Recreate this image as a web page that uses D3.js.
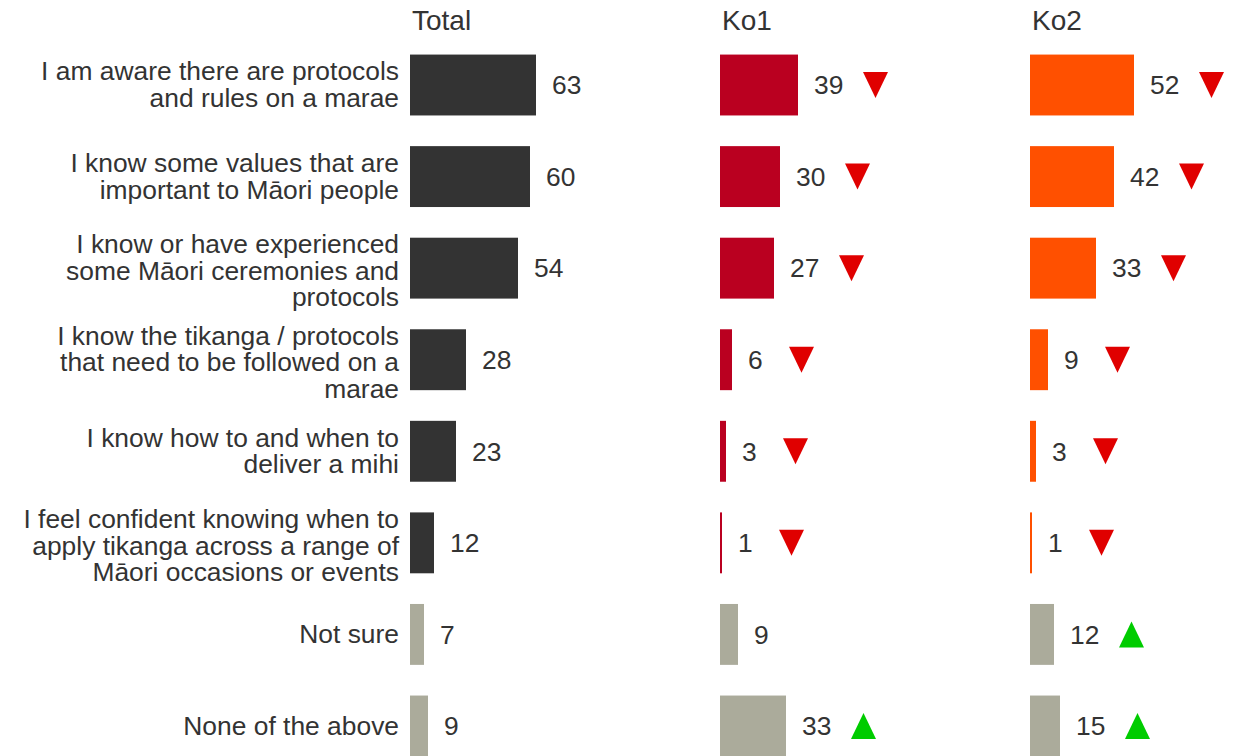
<!DOCTYPE html>
<html>
<head>
<meta charset="utf-8">
<script src="https://cdn.jsdelivr.net/npm/d3@7"></script>
<style>
  html, body { margin: 0; padding: 0; background: #ffffff; }
  svg { display: block; font-family: "Liberation Sans", Arial, sans-serif; }
</style>
</head>
<body>
<svg id="chart" width="1243" height="756"></svg>
<script>
// Survey statements (each entry is a list of wrapped lines)
const categories = [
  ["I am aware there are protocols", "and rules on a marae"],
  ["I know some values that are", "important to Māori people"],
  ["I know or have experienced", "some Māori ceremonies and", "protocols"],
  ["I know the tikanga / protocols", "that need to be followed on a", "marae"],
  ["I know how to and when to", "deliver a mihi"],
  ["I feel confident knowing when to", "apply tikanga across a range of", "Māori occasions or events"],
  ["Not sure"],
  ["None of the above"]
];

const panels = ["Total", "Ko1", "Ko2"];

const totalValues = [63, 60, 54, 28, 23, 12, 7, 9];
const ko1Values   = [39, 30, 27, 6, 3, 1, 9, 33];
const ko2Values   = [52, 42, 33, 9, 3, 1, 12, 15];

// Significance vs total: "down", "up" or null
const ko1Sig = ["down", "down", "down", "down", "down", "down", null, "up"];
const ko2Sig = ["down", "down", "down", "down", "down", "down", "up", "up"];

// Rows that are "other" responses and drawn in neutral grey
const neutralRows = [6, 7];

const series = [
  { name: panels[0], values: totalValues, sig: null,   color: "#333333" },
  { name: panels[1], values: ko1Values,   sig: ko1Sig, color: "#BA0020" },
  { name: panels[2], values: ko2Values,   sig: ko2Sig, color: "#FF5000" }
];

const svg = d3.select("#chart");
const textColor = "#333333";
const greyColor = "#ABAB9B";
const fontSize = "26.4px";

const panelX = [410, 720, 1030];
const x = d3.scaleLinear().domain([0, 100]).range([0, 200]);

const y = d3.scaleBand()
  .domain(d3.range(categories.length))
  .range([39, 772])
  .paddingInner(0.335)
  .paddingOuter(0.17);

// Category labels, right aligned against the first panel
const labelG = svg.append("g");
const lineH = 26.6;
categories.forEach((lines, i) => {
  const cy = y(i) + y.bandwidth() / 2 + Math.max(0, lines.length - 2) * 3;
  const t = labelG.append("text")
    .attr("text-anchor", "end")
    .attr("fill", textColor)
    .style("font-size", fontSize);
  lines.forEach((ln, j) => {
    t.append("tspan")
      .attr("x", 399)
      .attr("y", cy + (j - (lines.length - 1) / 2) * lineH)
      .attr("dy", "0.33em")
      .text(ln);
  });
});

series.forEach((s, p) => {
  const g = svg.append("g").attr("transform", `translate(${panelX[p]},0)`);

  g.append("text")
    .attr("x", 2)
    .attr("y", 30)
    .attr("fill", textColor)
    .style("font-size", "28px")
    .text(s.name);

  g.selectAll("rect")
    .data(s.values)
    .join("rect")
    .attr("x", 0)
    .attr("y", (d, i) => y(i))
    .attr("width", d => x(d))
    .attr("height", y.bandwidth())
    .attr("fill", (d, i) => neutralRows.includes(i) ? greyColor : s.color);

  g.selectAll("text.val")
    .data(s.values)
    .join("text")
    .attr("class", "val")
    .attr("x", d => x(d) + 16)
    .attr("y", (d, i) => y(i) + y.bandwidth() / 2)
    .attr("dy", "0.35em")
    .attr("fill", textColor)
    .style("font-size", fontSize)
    .text(d => d);

  if (s.sig) {
    const tw = 25, th = 26;
    s.sig.forEach((sig, i) => {
      if (!sig) return;
      const d = s.values[i];
      const left = x(d) + 49 + 8 * String(d).length;
      const cy = y(i) + y.bandwidth() / 2;
      const pts = sig === "down"
        ? [[left, cy - th / 2], [left + tw, cy - th / 2], [left + tw / 2, cy + th / 2]]
        : [[left, cy + th / 2], [left + tw, cy + th / 2], [left + tw / 2, cy - th / 2]];
      g.append("path")
        .attr("d", d3.line()(pts) + "Z")
        .attr("fill", sig === "down" ? "#E00000" : "#00CC00");
    });
  }
});
</script>
</body>
</html>
